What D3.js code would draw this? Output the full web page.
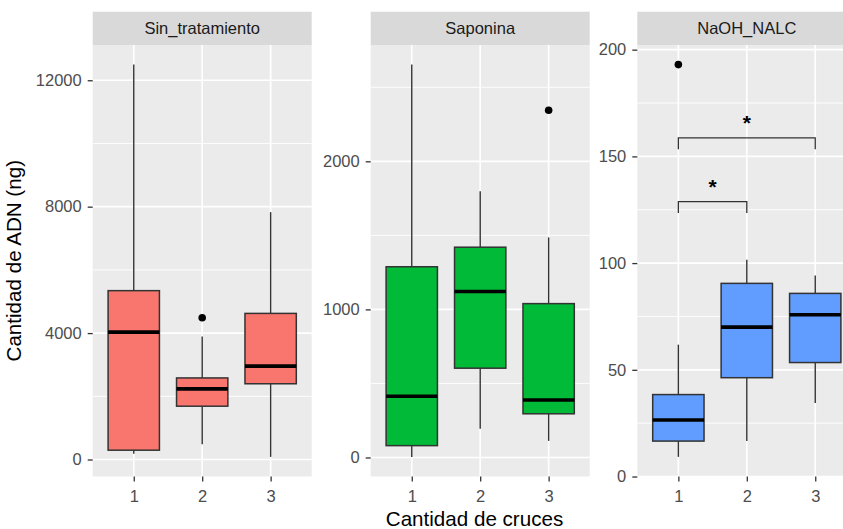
<!DOCTYPE html>
<html>
<head>
<meta charset="utf-8">
<script src="https://cdn.jsdelivr.net/npm/d3@7"></script>
<style>
  body { margin: 0; background: #fff; }
  text { font-family: "Liberation Sans", Arial, sans-serif; }
</style>
</head>
<body>
<div id="chart"></div>
<script>
// categorías
const facets = ["Sin_tratamiento", "Saponina", "NaOH_NALC"];
const groups = ["1", "2", "3"];
const fills = ["#F8766D", "#00BA38", "#619CFF"];

// Sin_tratamiento
const sinLow = [180, 486, 83];
const sinQ1 = [295, 1687, 2397];
const sinMed = [4032, 2235, 2955];
const sinQ3 = [5343, 2581, 4623];
const sinHigh = [12495, 3890, 7826];
const sinOut = [[], [4486], []];
const sinTicks = [0, 4000, 8000, 12000];
const sinMinor = [2000, 6000, 10000];

// Saponina
const sapLow = [4, 194, 112];
const sapQ1 = [80, 603, 295];
const sapMed = [413, 1121, 388];
const sapQ3 = [1288, 1420, 1039];
const sapHigh = [2653, 1797, 1486];
const sapOut = [[], [], [2345]];
const sapTicks = [0, 1000, 2000];
const sapMinor = [500, 1500, 2500];

// NaOH_NALC
const naLow = [9.2, 16.6, 34.4];
const naQ1 = [16.6, 46.3, 53.4];
const naMed = [26.5, 70, 75.8];
const naQ3 = [38.4, 90.5, 85.8];
const naHigh = [61.8, 101.6, 94.2];
const naOut = [[193], [], []];
const naTicks = [0, 50, 100, 150, 200];
const naMinor = [25, 75, 125, 175];

// comparaciones (ggsignif)
const naPairs = [["1", "2"], ["1", "3"]];
const naBracketY = [128.8, 158.7];
const naTipY = [123.5, 153.3];
const naLabels = ["*", "*"];

const panels = [
  { low: sinLow, q1: sinQ1, med: sinMed, q3: sinQ3, high: sinHigh, out: sinOut, ticks: sinTicks, minor: sinMinor },
  { low: sapLow, q1: sapQ1, med: sapMed, q3: sapQ3, high: sapHigh, out: sapOut, ticks: sapTicks, minor: sapMinor },
  { low: naLow, q1: naQ1, med: naMed, q3: naQ3, high: naHigh, out: naOut, ticks: naTicks, minor: naMinor }
];

const W = 843, H = 529;
const panelLeft = [92.7, 370.7, 637.3];
const panelW = 219;
const stripTop = 11.7, panelTop = 45, panelBottom = 476.5;

const svg = d3.select("#chart").append("svg")
  .attr("width", W).attr("height", H);

svg.append("rect").attr("width", W).attr("height", H).attr("fill", "#fff");

panels.forEach((p, k) => {
  const g = svg.append("g").attr("transform", `translate(${panelLeft[k]},0)`);

  const allVals = p.low.concat(p.high, p.out.flat());
  const lo = d3.min(allVals), hi = d3.max(allVals);
  const pad = (hi - lo) * 0.05;
  const y = d3.scaleLinear().domain([lo - pad, hi + pad]).range([panelBottom, panelTop]);
  const x = d3.scalePoint().domain(groups).range([0, panelW]).padding(0.6);
  const boxW = x.step() * 0.75;

  // fondo del panel
  g.append("rect")
    .attr("x", 0).attr("y", panelTop)
    .attr("width", panelW).attr("height", panelBottom - panelTop)
    .attr("fill", "#EBEBEB");

  // grilla
  g.selectAll(".minor").data(p.minor).enter().append("line")
    .attr("x1", 0).attr("x2", panelW)
    .attr("y1", d => y(d)).attr("y2", d => y(d))
    .attr("stroke", "#fff").attr("stroke-width", 0.9);
  g.selectAll(".majorY").data(p.ticks).enter().append("line")
    .attr("x1", 0).attr("x2", panelW)
    .attr("y1", d => y(d)).attr("y2", d => y(d))
    .attr("stroke", "#fff").attr("stroke-width", 1.7);
  g.selectAll(".majorX").data(groups).enter().append("line")
    .attr("x1", d => x(d)).attr("x2", d => x(d))
    .attr("y1", panelTop).attr("y2", panelBottom)
    .attr("stroke", "#fff").attr("stroke-width", 1.7);

  // strip
  g.append("rect")
    .attr("x", 0).attr("y", stripTop)
    .attr("width", panelW).attr("height", panelTop - stripTop)
    .attr("fill", "#D9D9D9");
  g.append("text")
    .attr("x", panelW / 2).attr("y", (stripTop + panelTop) / 2)
    .attr("dy", "0.35em")
    .attr("text-anchor", "middle")
    .attr("font-size", 16.5)
    .attr("fill", "#1A1A1A")
    .text(facets[k]);

  // ejes
  const yAxis = g.append("g")
    .call(d3.axisLeft(y).tickValues(p.ticks).tickFormat(d3.format("d")).tickSize(5).tickPadding(6));
  const xAxis = g.append("g").attr("transform", `translate(0,${panelBottom})`)
    .call(d3.axisBottom(x).tickSize(5).tickPadding(9));
  [yAxis, xAxis].forEach(a => {
    a.select(".domain").remove();
    a.selectAll(".tick line").attr("stroke", "#333333").attr("stroke-width", 1.3);
    a.selectAll(".tick text")
      .attr("font-size", 16.5)
      .attr("font-family", "'Liberation Sans', Arial, sans-serif")
      .attr("fill", "#4D4D4D");
  });

  const boxes = g.append("g");
  groups.forEach((grp, i) => {
    const cx = x(grp);
    // bigotes
    boxes.append("line")
      .attr("x1", cx).attr("x2", cx)
      .attr("y1", y(p.q3[i])).attr("y2", y(p.high[i]))
      .attr("stroke", "#333333").attr("stroke-width", 1.4);
    boxes.append("line")
      .attr("x1", cx).attr("x2", cx)
      .attr("y1", y(p.q1[i])).attr("y2", y(p.low[i]))
      .attr("stroke", "#333333").attr("stroke-width", 1.4);
    // caja
    boxes.append("rect")
      .attr("x", cx - boxW / 2).attr("y", y(p.q3[i]))
      .attr("width", boxW).attr("height", y(p.q1[i]) - y(p.q3[i]))
      .attr("fill", fills[k])
      .attr("stroke", "#333333").attr("stroke-width", 1.5);
    // mediana
    boxes.append("line")
      .attr("x1", cx - boxW / 2).attr("x2", cx + boxW / 2)
      .attr("y1", y(p.med[i])).attr("y2", y(p.med[i]))
      .attr("stroke", "#000").attr("stroke-width", 3.6);
    // atípicos
    p.out[i].forEach(v => {
      boxes.append("circle")
        .attr("cx", cx).attr("cy", y(v)).attr("r", 3.8)
        .attr("fill", "#000");
    });
  });

  // significancia solo en NaOH_NALC
  if (k === 2) {
    const sig = g.append("g");
    naPairs.forEach((pair, j) => {
      const x1 = x(pair[0]), x2 = x(pair[1]);
      sig.append("path")
        .attr("d", `M${x1},${y(naTipY[j])}V${y(naBracketY[j])}H${x2}V${y(naTipY[j])}`)
        .attr("fill", "none")
        .attr("stroke", "#333333").attr("stroke-width", 1.3);
      sig.append("text")
        .attr("x", (x1 + x2) / 2).attr("y", y(naBracketY[j]) - 7.5)
        .attr("text-anchor", "middle")
        .attr("font-size", 21)
        .attr("font-weight", "bold")
        .attr("fill", "#000")
        .text(naLabels[j]);
    });
  }
});

// títulos de ejes
svg.append("text")
  .attr("transform", `translate(21,${(panelTop + panelBottom) / 2}) rotate(-90)`)
  .attr("text-anchor", "middle")
  .attr("font-size", 20.6)
  .attr("fill", "#000")
  .text("Cantidad de ADN (ng)");

svg.append("text")
  .attr("x", (panelLeft[0] + panelLeft[2] + panelW) / 2)
  .attr("y", 526)
  .attr("text-anchor", "middle")
  .attr("font-size", 20.6)
  .attr("fill", "#000")
  .text("Cantidad de cruces");
</script>
</body>
</html>
